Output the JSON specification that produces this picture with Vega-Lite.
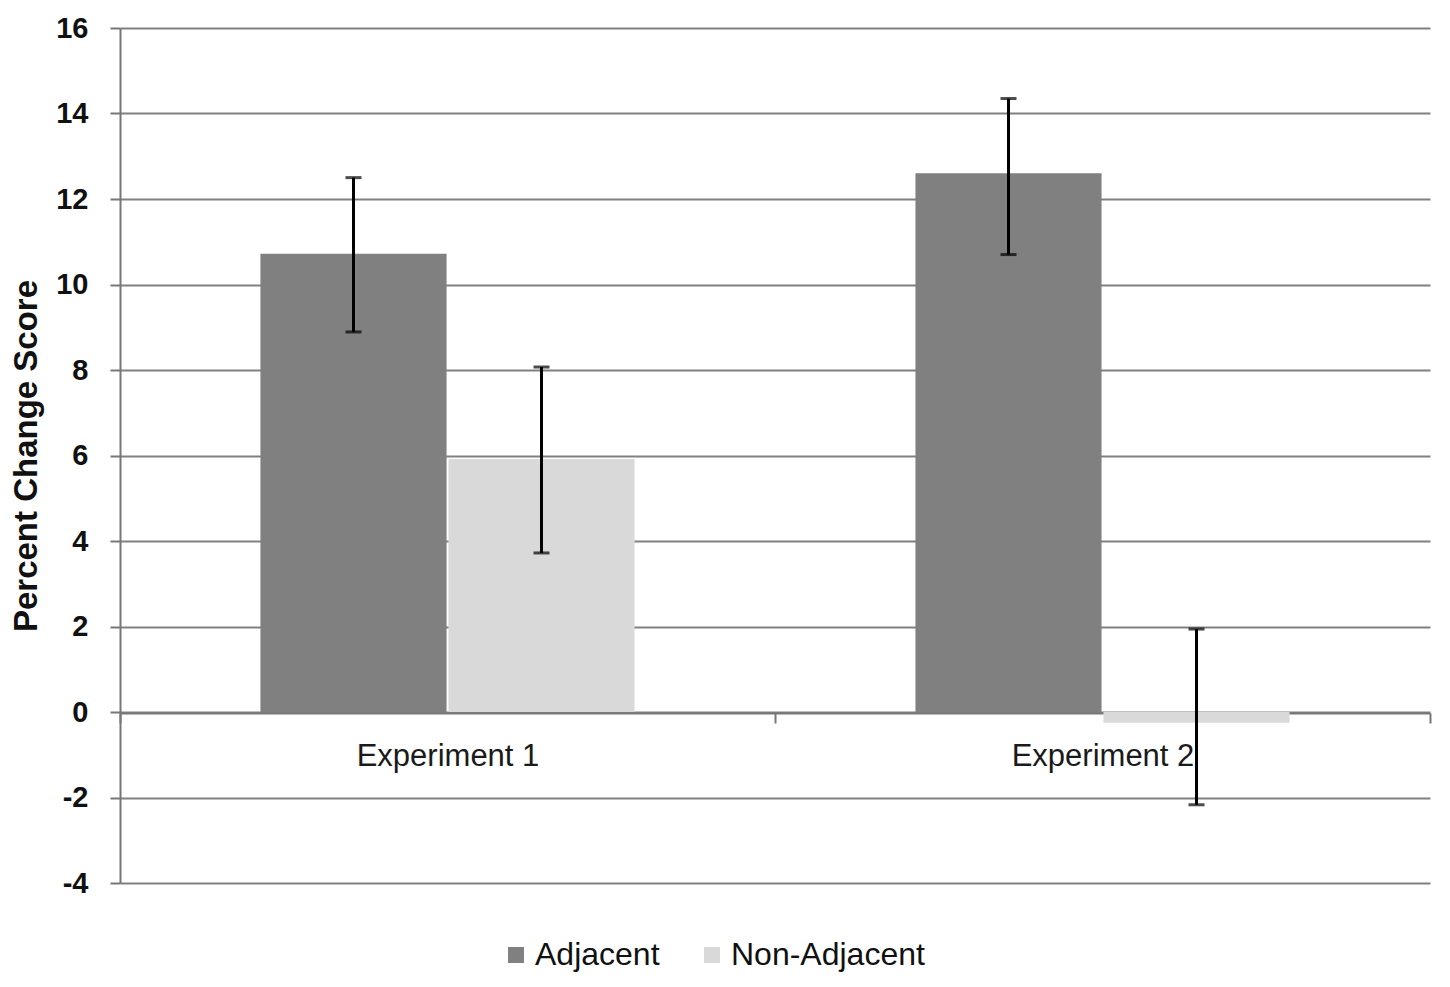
{
  "$schema": "https://vega.github.io/schema/vega-lite/v6.json",
  "width": 1310,
  "height": 855,
  "autosize": {"type": "none"},
  "padding": {"left": 120, "top": 28, "right": 20, "bottom": 104},
  "background": "white",
  "data": {
    "values": [
      {"experiment": "Experiment 1", "condition": "Adjacent", "score": 10.72, "lo": 8.89, "hi": 12.5},
      {"experiment": "Experiment 1", "condition": "Non-Adjacent", "score": 5.92, "lo": 3.72, "hi": 8.07},
      {"experiment": "Experiment 2", "condition": "Adjacent", "score": 12.6, "lo": 10.7, "hi": 14.35},
      {"experiment": "Experiment 2", "condition": "Non-Adjacent", "score": -0.25, "lo": -2.17, "hi": 1.94}
    ]
  },
  "encoding": {
    "x": {
      "field": "experiment",
      "type": "nominal",
      "title": null,
      "scale": {"paddingInner": 0, "paddingOuter": 0},
      "axis": {
        "orient": "bottom",
        "offset": -170,
        "labelAngle": 0,
        "labelLimit": 0,
        "labelFont": "Liberation Sans",
        "labelFontSize": 31,
        "labelColor": "#1a1a1a",
        "labelPadding": 18,
        "tickBand": "extent",
        "tickSize": 10,
        "tickWidth": 2,
        "tickColor": "#777777",
        "domainColor": "#777777",
        "domainWidth": 2,
        "grid": false
      }
    },
    "xOffset": {
      "field": "condition",
      "type": "nominal",
      "scale": {"paddingInner": 0.01, "paddingOuter": 0.747}
    }
  },
  "layer": [
    {
      "mark": {"type": "bar"},
      "encoding": {
        "y": {
          "field": "score",
          "type": "quantitative",
          "title": "Percent Change Score",
          "scale": {"domain": [-4, 16], "nice": false},
          "axis": {
            "values": [-4, -2, 0, 2, 4, 6, 8, 10, 12, 14, 16],
            "labelExpr": "replace(datum.label, '\u2212', '-')",
            "labelFont": "Liberation Sans",
            "labelFontSize": 29,
            "labelFontWeight": "bold",
            "labelColor": "#111111",
            "labelPadding": 22,
            "tickSize": 10,
            "tickWidth": 2,
            "tickColor": "#777777",
            "domainColor": "#777777",
            "domainWidth": 2,
            "gridColor": "#808080",
            "gridWidth": 2,
            "titleFont": "Liberation Sans",
            "titleFontSize": 33,
            "titleFontWeight": "bold",
            "titleColor": "#111111",
            "titlePadding": 12
          }
        },
        "color": {
          "field": "condition",
          "type": "nominal",
          "title": null,
          "scale": {"domain": ["Adjacent", "Non-Adjacent"], "range": ["#808080", "#d9d9d9"]},
          "legend": {
            "orient": "none",
            "legendX": 380,
            "legendY": 911,
            "direction": "horizontal",
            "symbolType": "square",
            "symbolSize": 256,
            "symbolStrokeWidth": 0,
            "labelFont": "Liberation Sans",
            "labelFontSize": 32,
            "labelLimit": 0,
            "labelColor": "#111111",
            "labelOffset": 3,
            "columnPadding": 36
          }
        }
      }
    },
    {
      "mark": {"type": "rule", "color": "black", "strokeWidth": 3},
      "encoding": {
        "y": {"field": "lo", "type": "quantitative"},
        "y2": {"field": "hi"}
      }
    },
    {
      "mark": {"type": "tick", "color": "black", "thickness": 3, "size": 16},
      "encoding": {
        "y": {"field": "lo", "type": "quantitative"}
      }
    },
    {
      "mark": {"type": "tick", "color": "black", "thickness": 3, "size": 16},
      "encoding": {
        "y": {"field": "hi", "type": "quantitative"}
      }
    }
  ],
  "config": {
    "view": {"stroke": null}
  }
}
